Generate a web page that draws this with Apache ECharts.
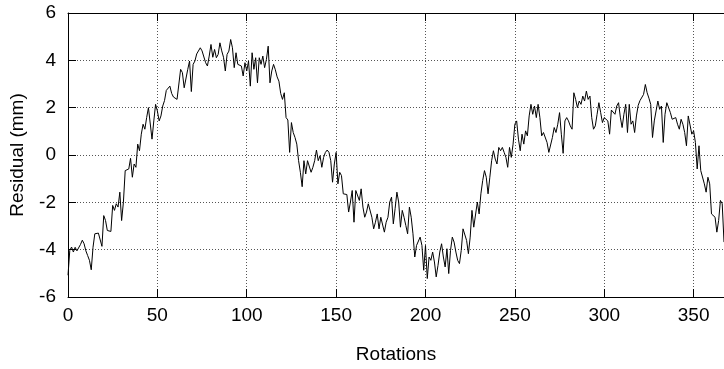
<!DOCTYPE html>
<html>
<head>
<meta charset="utf-8">
<script src="https://cdn.jsdelivr.net/npm/echarts@6/dist/echarts.min.js"></script>
<style>
  html, body { margin: 0; padding: 0; background: #fff; }
  #chart { width: 724px; height: 369px; }
</style>
</head>
<body>
<div id="chart"></div>
<script>
// residual per rotation (rotation = array index)
const residual = [
  -5.08, -4.03, -3.89, -4.10, -3.90, -4.05, -4.03, -3.78, -3.60, -3.75,
  -4.05, -4.25, -4.45, -4.85, -3.90, -3.33, -3.35, -3.30, -3.35, -3.86,
  -2.56, -2.77, -3.19, -3.20, -3.23, -2.13, -2.34, -2.06, -2.20, -1.57,
  -2.77, -1.99, -0.66, -0.70, -0.59, -0.14, -0.94, -0.38, -0.52, 0.46,
  0.18, 0.88, 1.30, 1.09, 1.58, 2.00, 2.07, 0.67, 1.44, 2.14,
  1.86, 1.44, 1.65, 2.07, 2.30, 2.73, 2.77, 2.91, 2.60, 2.45,
  2.49, 2.35, 2.40, 3.62, 3.48, 2.84, 2.87, 3.62, 3.97, 2.68,
  3.83, 3.97, 4.27, 4.32, 4.53, 4.40, 4.32, 3.90, 3.76, 4.18,
  4.67, 4.13, 4.46, 4.11, 4.25, 4.74, 4.40, 4.13, 3.55, 4.25,
  4.39, 4.88, 4.53, 3.69, 4.32, 3.83, 3.90, 3.76, 3.34, 3.90,
  3.55, 3.97, 2.91, 4.32, 3.62, 4.11, 3.05, 4.11, 3.83, 4.18,
  3.69, 4.04, 4.60, 3.05, 3.55, 3.83, 3.60, 3.30, 3.12, 2.60,
  2.35, 2.63, 1.58, 1.48, 0.11, 1.37, 0.95, 0.74, 0.46, -0.24,
  -0.73, -1.34, -0.24, -0.80, -0.24, -0.17, -0.73, -0.52, -0.24, 0.21,
  -0.24, -0.03, -0.52, -0.10, 0.11, 0.21, 0.11, -0.24, -1.15, -0.38,
  0.11, -1.22, -0.73, -0.87, -1.64, -1.71, -1.67, -2.41, -1.99, -1.50,
  -2.84, -1.50, -1.43, -1.92, -1.43, -2.20, -2.63, -2.41, -2.06, -2.13,
  -2.63, -3.12, -2.84, -2.49, -3.12, -2.63, -2.70, -3.26, -2.84, -2.63,
  -1.99, -1.78, -2.91, -2.27, -1.57, -1.99, -3.05, -2.34, -2.63, -2.98,
  -3.33, -2.20, -2.63, -3.33, -4.31, -3.82, -3.89, -3.47, -3.82, -4.87,
  -3.82, -5.22, -4.31, -4.45, -4.10, -4.52, -5.15, -4.66, -4.10, -3.75,
  -4.31, -4.73, -3.96, -5.01, -4.03, -3.47, -3.68, -4.10, -4.45, -4.59,
  -4.03, -3.12, -3.19, -3.61, -4.17, -3.47, -2.34, -3.05, -3.12, -1.99,
  -2.49, -1.64, -1.08, -0.66, -0.94, -1.64, -0.94, -0.24, 0.18, -0.17,
  -0.38, 0.32, 0.18, 0.32, 0.11, -0.10, -0.52, 0.32, -0.10, 0.46,
  1.30, 1.44, 0.67, 0.18, 0.88, 0.46, 1.02, 0.81, 1.65, 2.14,
  1.72, 2.07, 1.58, 2.14, 1.58, 0.81, 0.95, 0.88, 0.53, 0.11,
  0.04, 0.74, 1.16, 0.95, 1.30, 1.79, 0.88, 0.07, 1.44, 1.58,
  1.44, 1.23, 1.09, 2.63, 2.35, 2.00, 2.28, 2.14, 2.49, 2.28,
  2.70, 2.35, 2.49, 1.58, 1.09, 1.23, 1.72, 2.21, 1.79, 1.37,
  1.58, 1.65, 1.44, 0.88, 1.90, 1.86, 1.72, 2.07, 2.21, 1.60,
  1.16, 1.72, 2.14, 0.95, 2.14, 1.30, 1.44, 0.95, 1.65, 2.10,
  2.30, 2.28, 2.56, 2.98, 2.63, 2.40, 2.14, 0.74, 1.44, 1.86,
  2.28, 1.93, 2.07, 0.53, 1.72, 2.21, 2.14, 1.79, 1.51, 1.51,
  1.58, 1.30, 1.09, 1.51, 1.30, 0.95, 0.39, 1.65, 1.58, 0.88,
  1.02, 0.53, -0.59, 0.39, -0.66, -0.73, -1.22, -1.57, -0.94, -1.22,
  -2.49, -2.56, -2.63, -3.26, -2.77, -1.92, -2.06, -3.68
];
const rotations = residual.map((_, i) => i);

const xTicks = [0, 50, 100, 150, 200, 250, 300, 350];
const yTicks = [-6, -4, -2, 0, 2, 4, 6];

const font = '"Liberation Sans", Arial, sans-serif';
const fontSize = 19;

const chart = echarts.init(document.getElementById('chart'), null, { renderer: 'canvas' });

const frameLine = { show: true, onZero: false, lineStyle: { color: '#000', width: 1 } };
const inTick = { show: true, inside: true, length: 8, lineStyle: { color: '#000' } };
const gridLine = { show: true, lineStyle: { color: '#555', width: 1, type: [1, 2] } };

chart.setOption({
  animation: false,
  grid: { left: 68, top: 13, right: 0, bottom: 71 },
  xAxis: [
    {
      type: 'value',
      min: 0,
      max: rotations[rotations.length - 1],
      interval: 50,
      name: 'Rotations',
      nameLocation: 'middle',
      nameGap: 48,
      nameTextStyle: { color: '#000', fontSize: fontSize, fontFamily: font },
      axisLine: frameLine,
      axisTick: inTick,
      axisLabel: {
        color: '#000', fontSize: fontSize, fontFamily: font, margin: 9,
        showMaxLabel: false,
        formatter: v => (xTicks.includes(v) ? String(v) : '')
      },
      splitLine: gridLine
    },
    {
      // mirrored top border with ticks
      type: 'value',
      position: 'top',
      min: 0,
      max: rotations[rotations.length - 1],
      interval: 50,
      axisLine: frameLine,
      axisTick: inTick,
      axisLabel: { show: false },
      splitLine: { show: false }
    }
  ],
  yAxis: {
    type: 'value',
    min: yTicks[0],
    max: yTicks[yTicks.length - 1],
    interval: 2,
    name: 'Residual (mm)',
    nameLocation: 'middle',
    nameRotate: 90,
    nameGap: 41,
    nameTextStyle: { color: '#000', fontSize: fontSize, fontFamily: font },
    axisLine: frameLine,
    axisTick: inTick,
    axisLabel: { color: '#000', fontSize: fontSize, fontFamily: font, margin: 12 },
    splitLine: gridLine
  },
  series: [{
    type: 'line',
    data: rotations.map((r, i) => [r, residual[i]]),
    showSymbol: false,
    lineStyle: { color: '#000', width: 1 },
    clip: true
  }]
});
</script>
</body>
</html>
